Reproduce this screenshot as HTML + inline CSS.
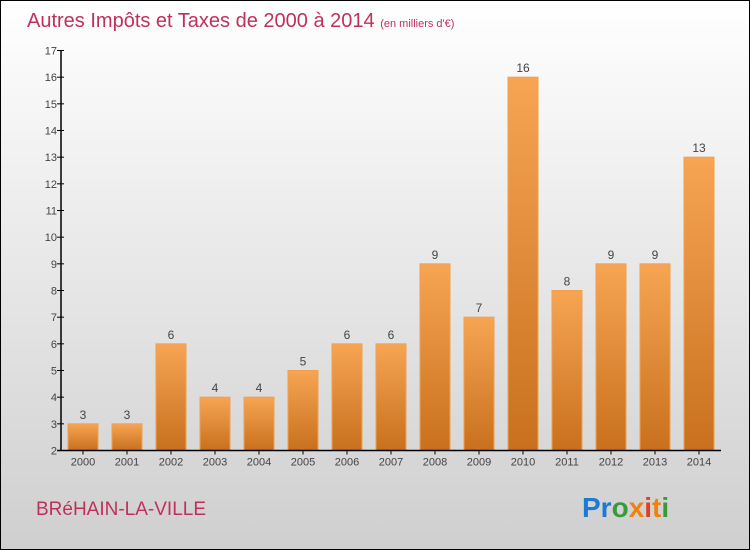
<!DOCTYPE html>
<html><head><meta charset="utf-8"><style>
html,body{margin:0;padding:0}
body{width:750px;height:550px;overflow:hidden;font-family:"Liberation Sans",sans-serif}
#wrap{position:absolute;left:0;top:0;width:748px;height:548px;border:1px solid #000;background:linear-gradient(#ffffff,#cfcfcf)}
</style></head><body>
<div id="wrap">
<svg width="750" height="550" style="position:absolute;left:-1px;top:-1px">
<defs><linearGradient id="bg" x1="0" y1="0" x2="0" y2="1"><stop offset="0" stop-color="#f7a553"/><stop offset="1" stop-color="#c8701e"/></linearGradient></defs>
<text x="27" y="27" font-size="20" fill="#c0305a">Autres Impôts et Taxes de 2000 à 2014 <tspan font-size="11">(en milliers d'€)</tspan></text>
<g id="plot"></g>
<text x="36" y="515" font-size="19" fill="#c0305a">BRéHAIN-LA-VILLE</text>
<text x="582" y="517" font-size="28" font-weight="bold"><tspan fill="#1a7ad4">Pr</tspan><tspan fill="#3a9a3a">o</tspan><tspan fill="#f08010">x</tspan><tspan fill="#e04020">i</tspan><tspan fill="#f08010">t</tspan><tspan fill="#3a9a3a">i</tspan></text>
</svg>
</div>
<script>
const years=["2000","2001","2002","2003","2004","2005","2006","2007","2008","2009","2010","2011","2012","2013","2014"];
const values=[3,3,6,4,4,5,6,6,9,7,16,8,9,9,13];
const yTicks=[2,3,4,5,6,7,8,9,10,11,12,13,14,15,16,17];
const NS="http://www.w3.org/2000/svg";
const g=document.getElementById('plot');
const x0=61,x1=721,yMin=2,yMax=17,yTop=50.5,yBot=450.5;
const band=(x1-x0)/years.length;
function yS(v){return yBot-(v-yMin)/(yMax-yMin)*(yBot-yTop);}
function xS(i){return x0+i*band;}
function mk(t,a,txt){const e=document.createElementNS(NS,t);for(const k in a)e.setAttribute(k,a[k]);if(txt!=null)e.textContent=txt;g.appendChild(e);return e;}
yTicks.forEach(v=>{
 const l=mk('line',{x1:x0-4,x2:x0+3,y1:yS(v),y2:yS(v),stroke:'#000'});
 
 
 const t=mk('text',{x:x0-4,y:yS(v)+4,'font-size':11,'text-anchor':'end',fill:'#444'},v);
 
 
});
values.forEach((v,i)=>{
 const bx=xS(i)+7,bw=30;
 const r=mk('rect',{x:bx,y:yS(v),width:bw,height:yBot-yS(v),fill:'url(#bg)',stroke:'#f0a050','stroke-width':1});
 
 
 const t=mk('text',{x:bx+bw/2,y:yS(v)-5,'font-size':12,'text-anchor':'middle',fill:'#444'},v);
 
 
 const xt=mk('line',{x1:xS(i)+band/2,x2:xS(i)+band/2,y1:yBot,y2:yBot+4,stroke:'#000'});
 
 
 const xl=mk('text',{x:xS(i)+band/2,y:yBot+15,'font-size':11,'text-anchor':'middle',fill:'#444'},years[i]);
 
 
});
const ya=mk('line',{x1:x0,x2:x0,y1:yTop,y2:yBot,stroke:'#000','stroke-width':1.5});


const xa=mk('line',{x1:x0-4,x2:x1,y1:yBot,y2:yBot,stroke:'#000','stroke-width':1.5});


</script>
</body></html>
